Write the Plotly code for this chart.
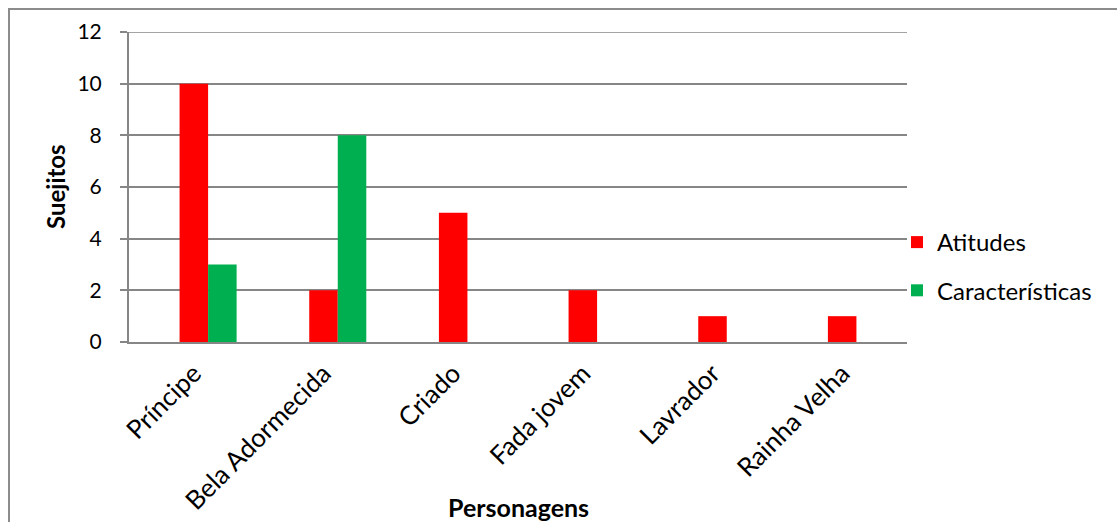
import plotly.graph_objects as go

categories = ["Príncipe", "Bela Adormecida", "Criado", "Fada jovem", "Lavrador", "Rainha Velha"]
atitudes = [10, 2, 5, 2, 1, 1]
caracteristicas = [3, 8, 0, 0, 0, 0]
y_ticks = [0, 2, 4, 6, 8, 10, 12]

FONT = "Lato, 'Open Sans', sans-serif"
W, H = 1117, 522
L, R, T, B = 129, 210, 32, 180
pw, ph = W - L - R, H - T - B

BAR_W = 0.22  # bar width in category units

fig = go.Figure()
fig.add_trace(go.Bar(name="Atitudes", x=categories, y=atitudes,
                     width=BAR_W, offset=-BAR_W / 2, legendgroup="a",
                     marker=dict(color="#FF0000", line=dict(width=0))))
fig.add_trace(go.Bar(name="Características", x=categories, y=caracteristicas,
                     width=BAR_W, offset=BAR_W / 2, legendgroup="c",
                     marker=dict(color="#00B050", line=dict(width=0))))

# pixel -> paper coordinate helpers
px2x = lambda px: (px - L) / pw
py2y = lambda py: (H - B - py) / ph

# outer chart frame (left and top edges visible)
fig.add_shape(type="rect", xref="paper", yref="paper",
              x0=px2x(9), x1=px2x(1135), y0=py2y(545), y1=py2y(9),
              line=dict(color="#8C8C8C", width=2), layer="below")
# top gridline at the axis maximum
fig.add_shape(type="line", xref="paper", yref="y", x0=px2x(122), x1=1, y0=12, y1=12,
              line=dict(color="#868686", width=1.5), layer="below")

# axis titles
fig.add_annotation(text="<b>Personagens</b>", xref="paper", yref="paper",
                   x=0.5, y=py2y(507), xanchor="center", yanchor="middle",
                   showarrow=False, font=dict(size=25))
fig.add_annotation(text="<b>Suejitos</b>", xref="paper", yref="paper",
                   x=px2x(55), y=py2y(187), xanchor="center", yanchor="middle",
                   textangle=-90, showarrow=False, font=dict(size=24))

fig.update_layout(
    width=W, height=H,
    margin=dict(l=L, r=R, t=T, b=B, pad=0),
    paper_bgcolor="white", plot_bgcolor="white",
    barmode="overlay",
    font=dict(family=FONT, size=22, color="black"),
    showlegend=True,
    legend=dict(x=px2x(897), y=py2y(220), xanchor="left", yanchor="top",
                font=dict(size=24), itemwidth=30, tracegroupgap=14,
                bgcolor="rgba(0,0,0,0)"),
    xaxis=dict(tickangle=-45, showgrid=False, showline=True, automargin=False,
               linecolor="#868686", linewidth=2, ticks="",
               ticklabelstandoff=4,
               tickfont=dict(size=26)),
    yaxis=dict(range=[0, 12], tickvals=y_ticks, showgrid=True, automargin=False,
               gridcolor="#868686", gridwidth=1.5, showline=True,
               linecolor="#868686", linewidth=2, ticks="outside",
               ticklen=7, tickcolor="#868686", tickwidth=1.5,
               zeroline=False, ticklabelstandoff=14,
               tickfont=dict(size=21)),
)

fig.write_html("out.html")
